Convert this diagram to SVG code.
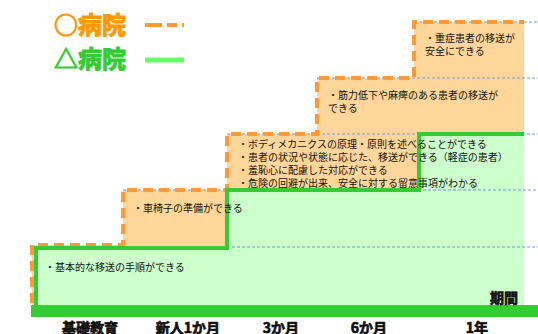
<svg xmlns="http://www.w3.org/2000/svg" width="538" height="334" viewBox="0 0 538 334">
<style>
text{font-family:"Noto Sans CJK JP","Noto Sans",sans-serif;fill:#111}
.t{font-size:10px}
.ax{font-size:14px;font-weight:bold;stroke:#111;stroke-width:0.7}
.lg{font-size:24px;font-weight:bold;stroke-width:1}
.grid{stroke:#6d9bd8;stroke-width:1;stroke-dasharray:3 2;fill:none}
.or{stroke:#ff9933;stroke-width:4;stroke-dasharray:10 6;fill:none}
.gr{stroke:#33cc33;stroke-width:4;fill:none}
</style>
<rect width="538" height="334" fill="#fff"/>
<g id="fills">
<path d="M32,305 V245 H123 V190 H227 V134 H317 V78 H414 V22 H524 V305 Z" fill="#ffd699"/>
<path d="M36,305 V248 H227 V190 H419 V134 H524 V305 Z" fill="#ccffcc"/>
</g>
<g id="gridlines">
<path class="grid" d="M414,22 H538 M317,78 H538 M227,134 H538 M123,190 H538 M32,247 H538"/>
</g>
<g id="connectors">
<path class="or" d="M32,303 V245 H123 V190 H227 V134 H317 V78 H414 V22 H524"/>
<path class="gr" d="M36,305 V248 H227 V190 H419 V134 H524"/>
</g>
<g id="axis">
<rect x="31" y="305" width="507" height="12" fill="#33cc33"/>
<text class="ax" x="504" y="303" text-anchor="middle">期間</text>
<text class="ax" x="90" y="333" text-anchor="middle">基礎教育</text>
<text class="ax" x="188" y="333" text-anchor="middle">新人1か月</text>
<text class="ax" x="281" y="333" text-anchor="middle">3か月</text>
<text class="ax" x="369" y="333" text-anchor="middle">6か月</text>
<text class="ax" x="477" y="333" text-anchor="middle">1年</text>
</g>
<g id="legend">
<text class="lg" x="54" y="34" style="fill:#ff9900;stroke:#ff9900">○病院</text>
<path d="M145,25 H162 M167,25 H177 M182,25 H184" stroke="#ff9933" stroke-width="4" fill="none"/>
<text class="lg" x="54" y="68" style="fill:#33cc33;stroke:#33cc33">△病院</text>
<line x1="145" y1="60" x2="184" y2="60" stroke="#66ff66" stroke-width="5"/>
</g>
<g id="step1"><text class="t" x="45" y="271">・基本的な移送の手順ができる</text></g>
<g id="step2"><text class="t" x="133" y="212">・車椅子の準備ができる</text></g>
<g id="step3">
<text class="t" x="238" y="148">・ボディメカニクスの原理・原則を述べることができる</text>
<text class="t" x="238" y="161">・患者の状況や状態に応じた、移送ができる（軽症の患者）</text>
<text class="t" x="238" y="174">・羞恥心に配慮した対応ができる</text>
<text class="t" x="238" y="187">・危険の回避が出来、安全に対する留意事項がわかる</text>
</g>
<g id="step4">
<text class="t" x="328" y="99">・筋力低下や麻痺のある患者の移送が</text>
<text class="t" x="328" y="112">できる</text>
</g>
<g id="step5">
<text class="t" x="425" y="42">・重症患者の移送が</text>
<text class="t" x="425" y="55">安全にできる</text>
</g>
</svg>
